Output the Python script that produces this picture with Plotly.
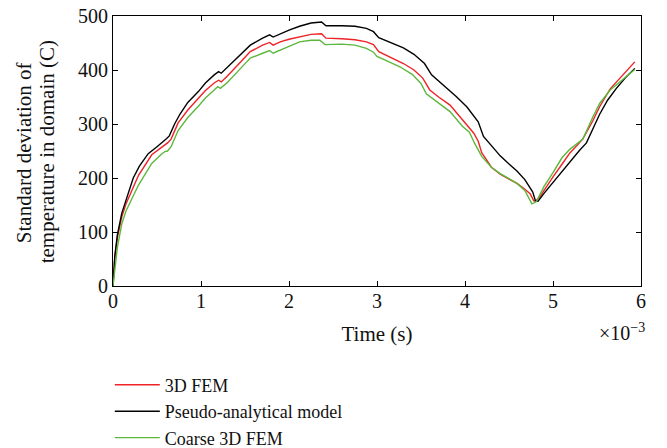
import plotly.graph_objects as go

# Time in units of 1e-3 s
x_black = [0, 0.02, 0.05, 0.1, 0.15, 0.23, 0.3, 0.4, 0.5, 0.57, 0.61, 0.64, 0.7, 0.76, 0.85, 0.97,
           1.05, 1.15, 1.2, 1.23, 1.3, 1.4, 1.56, 1.7, 1.78, 1.82, 1.9, 2.0, 2.12, 2.25, 2.37, 2.42,
           2.6, 2.75, 2.88, 2.96, 3.02, 3.15, 3.3, 3.42, 3.54, 3.62, 3.75, 3.9, 4.02, 4.15, 4.21,
           4.3, 4.4, 4.5, 4.59, 4.68, 4.74, 4.77, 4.80, 4.83, 4.9, 5.0, 5.1, 5.19, 5.3, 5.38, 5.45,
           5.53, 5.62, 5.72, 5.82, 5.93]
y_black = [0, 55, 95, 135, 160, 200, 222, 245, 258, 267, 273, 278, 300, 318, 340, 360,
           376, 391, 397, 394, 405, 421, 446, 459, 465, 461, 467, 474, 481, 487, 489, 482,
           482, 481, 477, 471, 460, 451, 441, 429, 412, 391, 373, 351, 332, 304, 277,
           259, 241, 226, 213, 197, 181, 174, 158, 157, 172, 192, 212, 228, 251, 265, 290,
           318, 344, 366, 385, 403]

x_red = [0, 0.02, 0.05, 0.1, 0.15, 0.29, 0.44, 0.57, 0.62, 0.66, 0.74, 0.85, 0.97, 1.05, 1.15,
         1.2, 1.23, 1.3, 1.45, 1.56, 1.7, 1.78, 1.82, 1.9, 2.0, 2.12, 2.25, 2.37, 2.42, 2.6,
         2.75, 2.88, 2.96, 3.02, 3.15, 3.3, 3.42, 3.52, 3.6, 3.7, 3.83, 4.0, 4.1, 4.15, 4.19,
         4.3, 4.4, 4.5, 4.59, 4.66, 4.74, 4.78, 4.80, 4.85, 4.92, 5.0, 5.1, 5.19, 5.3, 5.34,
         5.45, 5.53, 5.65, 5.76, 5.93]
y_red = [0, 50, 90, 128, 153, 205, 243, 259, 265, 272, 302, 326, 348, 362, 376,
         381, 378, 389, 415, 434, 446, 451, 446, 452, 457, 462, 466, 467, 459, 458,
         456, 452, 447, 434, 424, 412, 400, 385, 363, 350, 335, 303, 283, 268, 247,
         220, 207, 198, 190, 182, 171, 158, 157, 165, 183, 202, 225, 246, 265, 273,
         305, 332, 365, 385, 415]

x_green = [0, 0.02, 0.05, 0.1, 0.15, 0.29, 0.44, 0.55, 0.59, 0.62, 0.66, 0.74, 0.85, 0.97, 1.05,
           1.15, 1.19, 1.22, 1.3, 1.45, 1.56, 1.7, 1.78, 1.82, 1.9, 2.0, 2.12, 2.25, 2.35, 2.41,
           2.6, 2.75, 2.88, 2.96, 3.0, 3.1, 3.26, 3.4, 3.5, 3.56, 3.7, 3.83, 3.97, 4.05, 4.11,
           4.19, 4.3, 4.4, 4.5, 4.59, 4.68, 4.72, 4.76, 4.81, 4.9, 5.0, 5.1, 5.19, 5.3, 5.34,
           5.45, 5.53, 5.65, 5.76, 5.93]
y_green = [0, 30, 72, 115, 140, 187, 227, 244, 249, 250, 258, 288, 312, 333, 348,
           363, 369, 366, 377, 403, 422, 431, 436, 431, 437, 444, 452, 455, 455, 447,
           448, 446, 440, 433, 425, 418, 406, 392, 375, 356, 338, 323, 296, 285, 264,
           240, 220, 208, 199, 190, 177, 164, 152, 156, 185, 210, 237, 253, 268, 272,
           312, 338, 363, 378, 401]

names = ["3D FEM", "Pseudo-analytical model", "Coarse 3D FEM"]
colors = ["#ee2227", "#000000", "#5cb83c"]
y_title_lines = ["Standard deviation of", "temperature in domain (C)"]

FONT = "Liberation Serif"

fig = go.Figure()
for xs, ys, nm, col in [(x_red, y_red, names[0], colors[0]),
                        (x_black, y_black, names[1], colors[1]),
                        (x_green, y_green, names[2], colors[2])]:
    fig.add_trace(go.Scatter(x=xs, y=ys, mode="lines", name=nm,
                             line=dict(color=col, width=1.4)))

fig.update_layout(
    width=667, height=448,
    margin=dict(l=113, r=26, t=16, b=162),
    paper_bgcolor="white", plot_bgcolor="white",
    font=dict(family=FONT, size=20, color="#111111"),
    showlegend=True,
    legend=dict(x=-0.006, y=0.1817, xref="paper", yref="container",
                xanchor="left", yanchor="top",
                orientation="v", itemwidth=45, font=dict(size=18),
                tracegroupgap=0, bgcolor="rgba(0,0,0,0)"),
    xaxis=dict(range=[0, 6], tickvals=[0, 1, 2, 3, 4, 5, 6], showgrid=False, zeroline=False,
               showline=True, linecolor="black", linewidth=1, mirror="ticks",
               ticks="inside", ticklen=5, tickcolor="black", automargin=False,
               ticklabelstandoff=-3, ticklabeloverflow="allow",
               title=dict(text="Time (s)", font=dict(size=21), standoff=15),
               tickfont=dict(size=20)),
    yaxis=dict(range=[0, 500], tickvals=[0, 100, 200, 300, 400, 500], showgrid=False, zeroline=False,
               showline=True, linecolor="black", linewidth=1, mirror="ticks",
               ticks="inside", ticklen=5, tickcolor="black", automargin=False,
               ticklabeloverflow="allow",
               tickfont=dict(size=20)),
)

for txt, xp in zip(y_title_lines, [-0.167, -0.125]):
    fig.add_annotation(text=txt, xref="paper", yref="paper", x=xp, y=0.495,
                       xanchor="center", yanchor="middle", textangle=-90,
                       showarrow=False, font=dict(family=FONT, size=21, color="#111111"))

fig.add_annotation(text="×10<sup>−3</sup>", xref="paper", yref="paper",
                   x=1.012, y=-0.119, xanchor="right", yanchor="top",
                   showarrow=False, font=dict(family=FONT, size=20, color="#111111"))

fig.write_html("out.html", config={"displayModeBar": False},
               post_script="document.body.style.margin='0';")
